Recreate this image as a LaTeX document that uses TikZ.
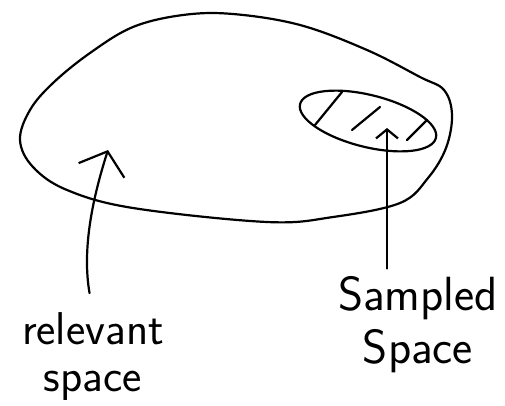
\documentclass[tikz,border=0pt]{standalone}
\usepackage{tikz}
\usetikzlibrary{arrows.meta,shapes.geometric}
\tikzset{
	pen/.style={line width=2.2pt, line cap=round, line join=round},
	txt/.style={font=\sffamily\fontsize{46}{47}\selectfont, align=center, inner sep=0pt},
	bigtip/.style={-{Straight Barb[length=20pt,width=48pt]}},
	smalltip/.style={-{Straight Barb[length=9pt,width=22pt]}},
}
\begin{document}
\begin{tikzpicture}[x=1pt, y=-1pt]
	\useasboundingbox (0,0) rectangle (505,405);
	\draw[pen] plot[smooth cycle, tension=0.6] coordinates {(233,14) (300,25) (367,50) (420,77) (444,90) (452,115) (446,148) (428,178) (400,203) (333,217) (267,222) (133,208) (67,190) (33,167) (20,140) (30,110) (53,83) (90,53) (133,27) (183,15)};
	\node[pen, draw, ellipse, rotate=-14, minimum width=140pt, minimum height=52pt, inner sep=0pt] (smpl) at (368,121) {};
	\draw[pen] (342,92) -- (315,125);
	\draw[pen] (380,107) -- (352,130);
	\draw[pen] (427,120) -- (407,140);
	\coordinate (relTip) at (108,150);
	\coordinate (smpTip) at (387,128);
	\node[txt] (relv) at (93,357) {relevant\\space};
	\node[txt, font=\sffamily\fontsize{48}{53}\selectfont] (smpd) at (418,325) {Sampled\\Space};
	\draw[pen, bigtip, shorten <=20pt] (relv.north) .. controls (82,250) and (92,200) .. (relTip);
	\draw[pen, smalltip, shorten <=8pt] (smpTip |- smpd.north) -- (smpTip);
\end{tikzpicture}
\end{document}
